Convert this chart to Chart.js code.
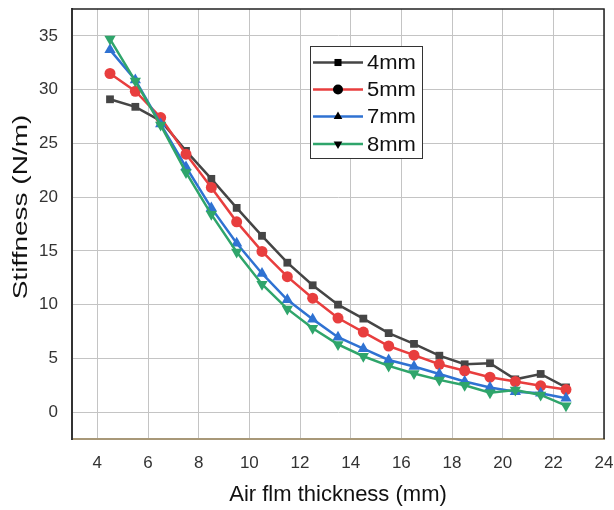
<!DOCTYPE html>
<html>
<head>
<meta charset="utf-8">
<script src="https://cdn.jsdelivr.net/npm/chart.js"></script>
<style>
  html, body { margin: 0; padding: 0; background: #fff; }
  #wrap { width: 614px; height: 510px; }
</style>
</head>
<body>
<div id="wrap"><canvas id="stiffChart" width="614" height="510"></canvas></div>
<script>
// air film thickness (mm)
const thickness = [4.5, 5.5, 6.5, 7.5, 8.5, 9.5, 10.5, 11.5, 12.5, 13.5, 14.5, 15.5, 16.5, 17.5, 18.5, 19.5, 20.5, 21.5, 22.5];
// stiffness (N/m) for each groove depth
const stiff4mm = [29.1, 28.4, 27.1, 24.3, 21.7, 19.0, 16.4, 13.9, 11.8, 10.0, 8.7, 7.35, 6.35, 5.25, 4.45, 4.55, 3.05, 3.55, 2.3];
const stiff5mm = [31.5, 29.85, 27.4, 24.0, 20.9, 17.7, 14.95, 12.6, 10.6, 8.75, 7.45, 6.15, 5.3, 4.45, 3.85, 3.25, 2.85, 2.45, 2.1];
const stiff7mm = [33.7, 30.9, 26.8, 22.8, 19.0, 15.7, 12.9, 10.45, 8.65, 6.97, 5.9, 4.85, 4.25, 3.55, 2.85, 2.3, 1.9, 1.75, 1.3];
const stiff8mm = [34.7, 30.8, 26.7, 22.3, 18.4, 14.9, 11.9, 9.6, 7.8, 6.3, 5.2, 4.3, 3.6, 3.0, 2.5, 1.8, 2.05, 1.6, 0.6];
const seriesNames = ['4mm', '5mm', '7mm', '8mm'];
const xTicks = [4, 6, 8, 10, 12, 14, 16, 18, 20, 22, 24];
const yTicks = [0, 5, 10, 15, 20, 25, 30, 35];
const yTitle = 'Stiffness (N/m)';

const FONT = "'Liberation Sans', Arial, sans-serif";

const toPts = ys => ys.map((y, i) => ({x: thickness[i], y: y}));

const mkSet = (label, data, color, style, rot, order) => ({
  label: label,
  data: toPts(data),
  borderColor: color,
  backgroundColor: color,
  borderWidth: 2.5,
  pointStyle: style,
  rotation: rot,
  pointRadius: style === 'rect' ? 5.5 : (style === 'circle' ? 5.5 : 6.5),
  pointBorderWidth: 0,
  tension: 0,
  order: order,
});

// frame, y title (stretched like the original) and legend box
const framePlugin = {
  id: 'framePlugin',
  afterDraw(chart) {
    const {ctx, chartArea: a} = chart;
    ctx.save();
    ctx.strokeStyle = '#222';
    ctx.lineWidth = 1.5;
    ctx.beginPath();
    ctx.moveTo(a.left, a.top);
    ctx.lineTo(a.right, a.top);
    ctx.lineTo(a.right, a.bottom);
    ctx.stroke();

    // y title
    ctx.save();
    ctx.translate(21, 207);
    ctx.rotate(-Math.PI / 2);
    ctx.scale(1.4, 1);
    ctx.fillStyle = '#111';
    ctx.font = '20px ' + FONT;
    ctx.textAlign = 'center';
    ctx.textBaseline = 'middle';
    ctx.fillText(yTitle, 0, 0);
    ctx.restore();

    // legend
    const bx = 310, by = 46, bw = 112, bh = 112;
    ctx.fillStyle = '#fff';
    ctx.fillRect(bx, by, bw, bh);
    ctx.strokeStyle = '#333';
    ctx.lineWidth = 1;
    ctx.strokeRect(bx + 0.5, by + 0.5, bw, bh);
    const rows = [62.5, 89.5, 116.5, 144];
    chart.data.datasets.forEach((ds, i) => {
      const y = rows[i];
      ctx.strokeStyle = ds.borderColor;
      ctx.lineWidth = 2.5;
      ctx.beginPath();
      ctx.moveTo(313, y);
      ctx.lineTo(363, y);
      ctx.stroke();
      ctx.fillStyle = '#000';
      ctx.strokeStyle = '#000';
      Chart.helpers.drawPoint(ctx, {pointStyle: ds.pointStyle, rotation: ds.rotation, radius: 5, borderWidth: 0}, 338, y);
      ctx.save();
      ctx.translate(367, y + 1);
      ctx.scale(1.1, 1);
      ctx.fillStyle = '#111';
      ctx.font = '20px ' + FONT;
      ctx.textBaseline = 'middle';
      ctx.textAlign = 'left';
      ctx.fillText(ds.label, 0, 0);
      ctx.restore();
    });
    ctx.restore();
  },
};

new Chart(document.getElementById('stiffChart'), {
  type: 'line',
  data: {
    datasets: [
      mkSet(seriesNames[0], stiff4mm, '#454545', 'rect', 0, 3),
      mkSet(seriesNames[1], stiff5mm, '#e83e3e', 'circle', 0, 2),
      mkSet(seriesNames[2], stiff7mm, '#2f72d2', 'triangle', 0, 1),
      mkSet(seriesNames[3], stiff8mm, '#2fa56b', 'triangle', 180, 0),
    ],
  },
  options: {
    responsive: false,
    animation: false,
    events: [],
    layout: {
      padding: {left: 0, top: 9, right: 10, bottom: 0},
    },
    plugins: {
      legend: {display: false},
      tooltip: {enabled: false},
    },
    scales: {
      x: {
        type: 'linear',
        min: 3,
        max: 24,
        afterBuildTicks: axis => { axis.ticks = xTicks.map(v => ({value: v})); },
        afterFit: axis => {
          axis.height = 71;
          axis.paddingLeft = 0;
          axis.paddingRight = 0;
        },
        grid: {color: '#c4c4c4', lineWidth: 1, drawTicks: false},
        border: {color: '#a89878', width: 2},
        ticks: {
          padding: 14,
          color: '#333',
          font: {family: FONT, size: 17},
          maxRotation: 0,
        },
        title: {
          display: true,
          text: 'Air flm thickness (mm)',
          color: '#111',
          font: {family: FONT, size: 22},
          padding: {top: 2, bottom: 2},
        },
      },
      y: {
        min: -2.5,
        max: 37.5,
        afterBuildTicks: axis => { axis.ticks = yTicks.map(v => ({value: v})); },
        afterFit: axis => {
          axis.width = 72;
          axis.paddingTop = 0;
          axis.paddingBottom = 0;
        },
        grid: {color: '#c4c4c4', lineWidth: 1, drawTicks: false},
        border: {color: '#333', width: 2},
        ticks: {
          padding: 14,
          color: '#333',
          font: {family: FONT, size: 17},
        },
      },
    },
  },
  plugins: [framePlugin],
});
</script>
</body>
</html>
